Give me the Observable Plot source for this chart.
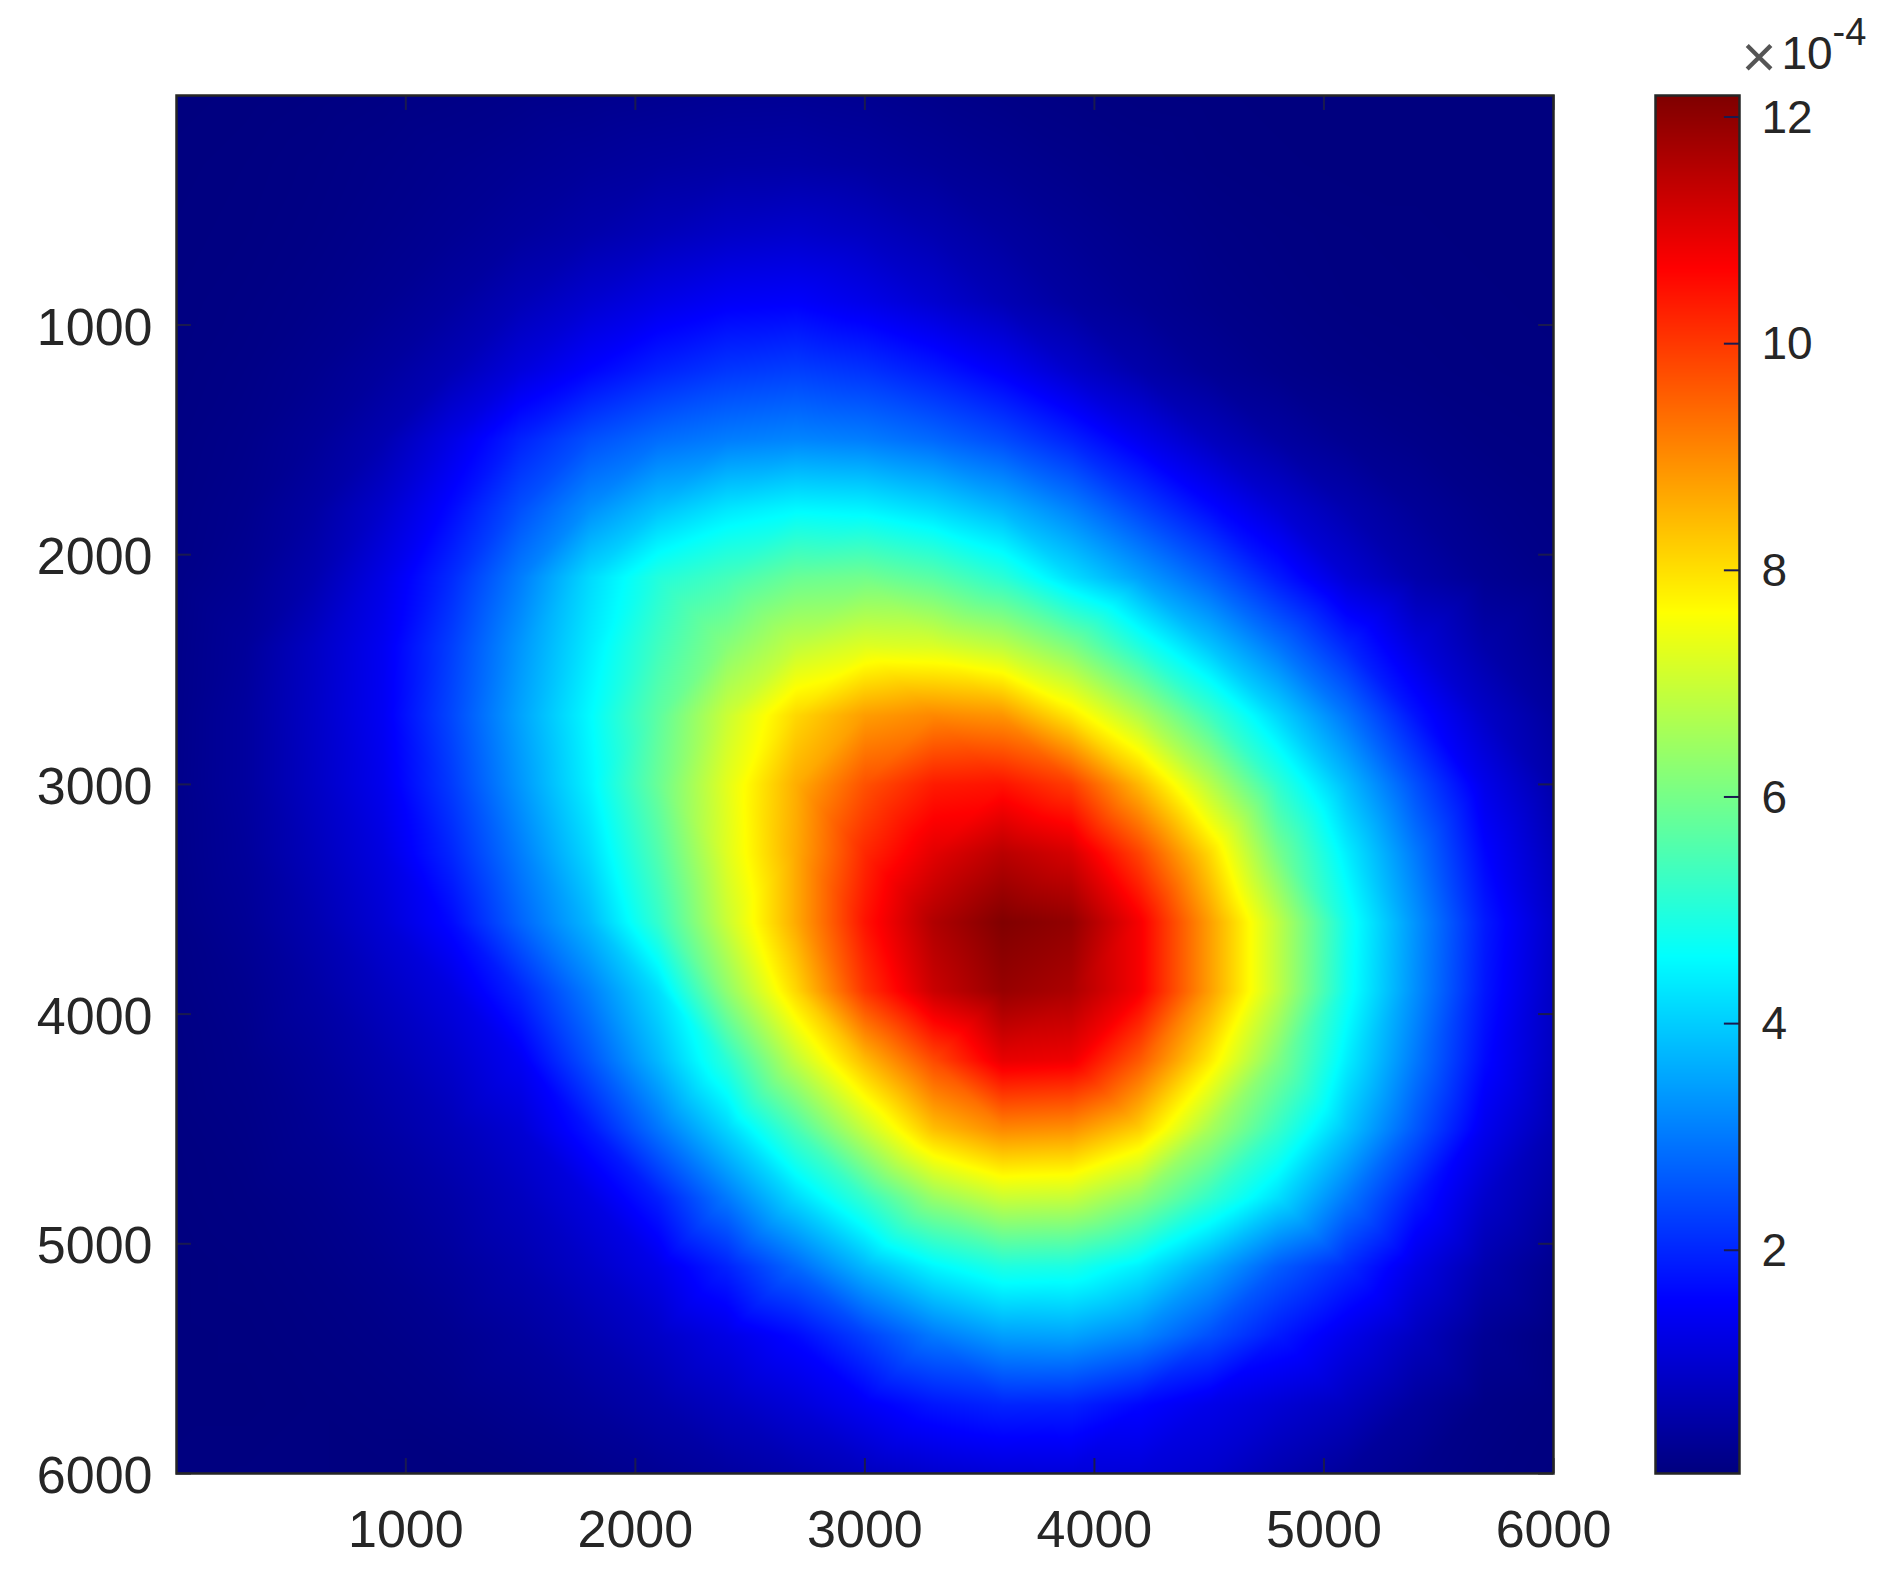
<!DOCTYPE html>
<html>
<head>
<meta charset="utf-8">
<script src="https://cdn.jsdelivr.net/npm/d3@7"></script>
<script src="https://cdn.jsdelivr.net/npm/@observablehq/plot@0.6"></script>
<style>
html,body{margin:0;padding:0;background:#fff}
#chart{display:flex;width:1888px;height:1575px}
#chart svg{display:block;max-width:none;flex:none}
</style>
</head>
<body>
<div id="chart"></div>
<script>
const gridX = [1,300,600,900,1200,1500,1800,2100,2400,2700,3000,3300,3600,3900,4200,4500,4800,5100,5400,5700,6000];
const gridY = [1,300,600,900,1200,1500,1800,2100,2400,2700,3000,3300,3600,3900,4200,4500,4800,5100,5400,5700,6000];
const values = [
[.03,.04,.06,.09,.12,.16,.20,.24,.28,.29,.25,.18,.12,.08,.05,.04,.03,.03,.03,.03,.03],
[.04,.06,.09,.14,.20,.27,.35,.42,.48,.50,.43,.33,.24,.16,.10,.06,.04,.03,.03,.03,.03],
[.05,.07,.11,.18,.27,.40,.55,.72,.88,.95,.82,.62,.42,.28,.18,.11,.07,.05,.04,.03,.03],
[.06,.09,.15,.25,.42,.70,1.0,1.27,1.47,1.52,1.30,1.0,.68,.42,.27,.16,.10,.06,.05,.04,.03],
[.07,.12,.22,.40,.68,1.15,1.58,1.95,2.20,2.30,2.15,1.85,1.46,.95,.55,.30,.17,.10,.07,.05,.04],
[.09,.16,.32,.62,1.25,1.95,2.50,2.85,3.05,3.15,3.05,2.80,2.45,1.95,1.35,.80,.45,.25,.15,.08,.06],
[.11,.20,.45,.95,1.65,2.50,3.25,3.85,4.30,4.52,4.45,4.15,3.70,3.10,2.35,1.65,1.05,.60,.32,.16,.09],
[.13,.26,.60,1.25,2.05,3.05,4.15,5.00,5.40,5.85,5.95,5.65,5.10,4.20,3.45,2.70,1.85,1.05,.55,.27,.14],
[.15,.35,.85,1.40,2.30,3.35,4.35,5.35,6.20,6.90,7.25,7.20,6.85,6.10,4.95,3.90,2.95,2.00,1.15,.55,.25],
[.16,.40,.88,1.42,2.40,3.50,4.55,5.70,7.00,8.10,8.80,9.05,8.90,7.90,6.70,5.35,4.10,2.95,1.75,.90,.40],
[.17,.40,.85,1.35,2.25,3.35,4.45,5.85,7.30,8.60,9.70,10.35,10.45,9.95,8.45,6.80,5.15,3.80,2.50,1.30,.55],
[.16,.36,.75,1.20,2.00,3.05,4.15,5.55,7.25,8.65,10.2,11.0,11.5,11.15,9.85,8.10,6.00,4.40,3.00,1.60,.75],
[.13,.30,.62,1.05,1.65,2.75,3.75,5.20,7.00,8.65,10.45,11.6,12.17,11.95,10.75,8.80,6.85,4.80,3.30,1.85,.90],
[.10,.22,.48,.82,1.20,1.98,3.05,4.20,6.30,8.10,10.05,11.3,11.9,11.65,10.75,8.80,6.85,4.75,3.25,1.80,.85],
[.08,.17,.36,.62,.95,1.42,2.55,3.75,5.10,6.90,8.45,9.80,10.95,10.85,9.60,7.90,6.10,4.40,3.00,1.65,.80],
[.06,.13,.27,.47,.72,1.05,1.80,2.95,4.10,5.45,6.95,8.40,9.05,8.95,8.20,6.60,5.25,3.90,2.60,1.35,.65],
[.05,.09,.18,.32,.52,.80,1.20,1.90,3.00,4.15,5.20,6.40,7.00,6.95,6.25,5.20,4.20,3.00,1.85,.95,.45],
[.03,.06,.12,.22,.38,.60,.90,1.30,1.95,2.80,3.75,4.50,4.95,4.90,4.40,3.55,2.65,2.05,1.25,.60,.22],
[.03,.04,.08,.14,.24,.40,.62,.90,1.25,1.65,2.30,3.00,3.45,3.50,3.15,2.50,1.85,1.30,.80,.30,.08],
[.03,.03,.05,.08,.14,.24,.38,.57,.82,1.10,1.45,1.80,1.98,1.95,1.62,1.30,1.05,.80,.40,.13,.05],
[.04,.05,.05,.04,.04,.09,.17,.28,.42,.58,.78,.98,1.10,1.12,1.10,.95,.62,.35,.18,.07,.03]
];
const xTicks = [1000,2000,3000,4000,5000,6000];
const yTicks = [1000,2000,3000,4000,5000,6000];
const barTicks = [2,4,6,8,10,12];
const jetStops = [0.03,1.55,4.59,7.63,10.67,12.19];
const jetColors = ["#00007f","#0000ff","#00ffff","#ffff00","#ff0000","#7f0000"];
const exponentParts = ["×","10","-4"];

const points = values.flatMap((row,j)=>row.map((v,i)=>({x:gridX[i],y:gridY[j],v})));
const ink = "#262626";
const tickInk = "#1a1a50";
const font = "'Liberation Sans', Arial, sans-serif";
const colorScale = {type:"linear",domain:jetStops,range:jetColors,interpolate:"rgb",clamp:true};
const chart = document.getElementById("chart");

const main = Plot.plot({
  width:1620,height:1575,
  marginLeft:176,marginRight:67,marginTop:95,marginBottom:102,
  style:{fontFamily:font,background:"#fff",color:ink},
  x:{domain:[1,6000],axis:null},
  y:{domain:[6000,1],axis:null},
  color:colorScale,
  marks:[
    Plot.raster(points,{x:"x",y:"y",fill:"v",interpolate:"barycentric",x1:1,x2:6000,y1:1,y2:6000}),
    Plot.ruleX(xTicks,{y1:6000,y2:5935,stroke:tickInk,strokeWidth:2}),
    Plot.ruleX(xTicks,{y1:1,y2:66,stroke:tickInk,strokeWidth:2}),
    Plot.ruleY(yTicks,{x1:1,x2:66,stroke:tickInk,strokeWidth:2}),
    Plot.ruleY(yTicks,{x1:6000,x2:5935,stroke:tickInk,strokeWidth:2}),
    Plot.frame({stroke:ink,strokeWidth:2.5}),
    Plot.axisX({ticks:xTicks,anchor:"bottom",tickSize:0,tickPadding:37,fontSize:52,label:null,tickFormat:d=>String(d)}),
    Plot.axisY({ticks:yTicks,anchor:"left",tickSize:0,tickPadding:24,fontSize:52,label:null,tickFormat:d=>String(d),dy:3})
  ]
});
chart.append(main);

const bar = Plot.plot({
  width:268,height:1575,
  marginLeft:35,marginRight:149,marginTop:95,marginBottom:102,
  style:{fontFamily:font,background:"#fff",color:ink},
  x:{domain:[0,1],axis:null},
  y:{domain:[0.03,12.19],axis:null},
  color:colorScale,
  marks:[
    Plot.raster({fill:(x,y)=>y,x1:0,x2:1,y1:0.03,y2:12.19,pixelSize:1}),
    Plot.ruleY(barTicks,{x1:0.82,x2:1,stroke:tickInk,strokeWidth:2}),
    Plot.frame({stroke:ink,strokeWidth:2.5}),
    Plot.axisY({ticks:barTicks,anchor:"right",tickSize:0,tickPadding:22,fontSize:46,label:null,tickFormat:d=>String(d),dy:1}),
    Plot.text([exponentParts[0]],{frameAnchor:"top-left",lineAnchor:"bottom",text:d=>d,textAnchor:"start",dx:86,dy:-19,fontSize:60,fill:"#555"}),
    Plot.text([exponentParts[1]],{frameAnchor:"top-left",lineAnchor:"bottom",text:d=>d,textAnchor:"start",dx:126,dy:-27,fontSize:46,fill:ink}),
    Plot.text([exponentParts[2]],{frameAnchor:"top-left",lineAnchor:"bottom",text:d=>d,textAnchor:"start",dx:177,dy:-51,fontSize:38,fill:ink})
  ]
});
chart.append(bar);
</script>
</body>
</html>
